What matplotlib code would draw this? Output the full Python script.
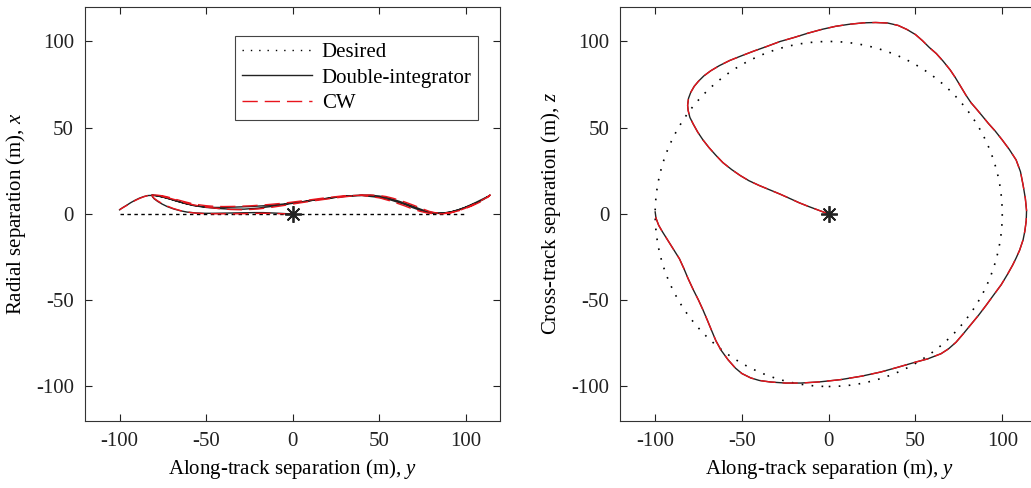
import matplotlib
matplotlib.use('Agg')
import matplotlib.pyplot as plt
from matplotlib.patches import Circle
import numpy as np

plt.rcParams['font.family'] = ['Liberation Serif', 'DejaVu Serif']
plt.rcParams['mathtext.fontset'] = 'custom'
plt.rcParams['mathtext.it'] = 'Liberation Serif:italic'
plt.rcParams['mathtext.rm'] = 'Liberation Serif'
plt.rcParams['axes.unicode_minus'] = False

# desired formation: circle of radius 100 m in the along/cross-track plane
desired_radius = 100

# trajectory: along-track y, cross-track z, radial x
# segment A: origin -> turn at upper left
yA = [0, -4, -8, -12, -17, -22, -28, -34, -40, -46,
      -51, -56, -61, -65, -69, -72.5, -75.5, -78, -80, -81, -81.3]
zA = [0, 1.5, 3, 4.5, 6.5, 8.8, 11.5, 14, 16.5, 19.3,
      22.3, 25.8, 29.8, 34, 38.5, 43, 47.5, 52, 56, 60, 63]
xA = [0, 0.2, 0.4, 0.6, 0.8, 0.8, 0.7, 0.6, 0.5, 0.4,
      0.4, 0.6, 1.1, 1.9, 3.0, 4.3, 5.8, 7.3, 8.8, 10, 11]
xA_cw = [0, 0.1, 0.2, 0.3, 0.4, 0.3, 0.2, 0.1, 0.1, 0.1,
         0.2, 0.5, 1.1, 2.0, 3.2, 4.6, 6.1, 7.6, 9.0, 10.2, 11]

# segment B: turn -> top arc -> right bulge
yB = [-81.3, -80.8, -79.5, -77.5, -75, -72, -68, -63, -57, -50,
      -43, -36, -28, -20, -12, -4, 4, 12, 20, 27,
      34, 40, 45, 50, 54, 58, 62, 66, 70, 73,
      76, 79, 82, 85, 88, 92, 96, 100, 104, 108,
      110.5, 112, 113.3, 114]
zB = [63, 67, 70.5, 74, 77, 80, 83, 86, 89, 91.8,
      94.5, 97, 100, 102.3, 104.8, 107, 108.8, 110, 110.8, 111,
      110.7, 109.3, 107, 104, 100.5, 96.5, 93, 88.5, 83.5, 79,
      74, 69, 64.5, 61, 57.4, 52.5, 48, 42.9, 37.5, 31.3,
      24.5, 16.8, 9, 2]
xB = [11, 11, 10.8, 10.4, 9.8, 9, 7.8, 6.3, 4.8, 3.8,
      3.2, 2.8, 2.8, 3.4, 4.4, 5.6, 6.8, 8, 9, 9.9,
      10.6, 11, 10.9, 10.4, 9.6, 8.5, 7.2, 5.8, 4.3, 3.1,
      2.0, 1.1, 0.6, 0.5, 0.7, 1.4, 2.5, 3.9, 5.5, 7.3,
      8.6, 9.6, 10.4, 11]
xB_cw = [11, 11, 10.9, 10.6, 10.1, 9.4, 8.3, 6.8, 5.2, 4.0,
         3.2, 2.6, 2.4, 2.9, 3.9, 5.1, 6.4, 7.6, 8.7, 9.6,
         10.4, 10.9, 11.0, 10.7, 10.1, 9.1, 7.9, 6.5, 5.0, 3.8,
         2.6, 1.5, 0.8, 0.4, 0.4, 0.9, 1.9, 3.3, 4.9, 6.8,
         8.2, 9.3, 10.2, 11]

# segment C: right bulge -> bottom arc -> end near (-100, 0)
yC = [114, 113.8, 113, 112, 110, 108, 106, 103, 99.4, 95,
      90.8, 86.5, 82, 77.5, 73.4, 69, 64.7, 57, 50.3, 40,
      30, 19, 7, -5, -16, -25, -33.5, -40, -45, -50,
      -53.8, -58, -62, -65, -67.5, -70, -72.5, -75, -78, -81,
      -83.5, -86, -88.5, -91, -93.5, -96, -98, -99.5, -100]
zC = [2, -4, -10, -15, -21, -25.5, -29.6, -35, -41, -47,
      -52.8, -58.5, -64, -69.5, -74.3, -78.2, -81, -84, -85.8, -88.8,
      -91.6, -94, -96, -97.3, -98, -98, -97.4, -96.5, -95, -92.5,
      -89.3, -84.5, -79, -73.5, -67.5, -61.4, -55.5, -50, -44, -37.5,
      -31.5, -26, -22, -18, -14, -10, -6.5, -2.5, 1.2]
xC = [11, 10.8, 10.3, 9.8, 8.8, 7.8, 6.8, 5.4, 3.8, 2.2,
      1.0, 0.4, 0.3, 1.0, 2.2, 3.8, 5.5, 8.0, 9.6, 10.7,
      10.3, 9.0, 7.3, 5.8, 4.8, 4.3, 4.0, 3.8, 3.8, 4.1,
      4.5, 5.2, 6.1, 6.9, 7.6, 8.4, 9.1, 9.8, 10.4, 10.8,
      10.7, 10.1, 9.2, 8.0, 6.6, 5.0, 3.8, 2.8, 2.4]
xC_cw = [11, 10.7, 10.1, 9.5, 8.4, 7.3, 6.3, 4.8, 3.2, 1.6,
         0.6, 0.1, 0.1, 0.6, 1.6, 3.0, 4.7, 7.4, 9.3, 10.8,
         10.6, 9.4, 7.8, 6.3, 5.3, 4.7, 4.4, 4.3, 4.4, 4.8,
         5.3, 6.0, 7.0, 7.8, 8.5, 9.3, 9.9, 10.5, 10.9, 11.1,
         10.8, 10.0, 9.0, 7.8, 6.4, 4.9, 3.7, 2.8, 2.4]

y_traj = np.array(yA + yB[1:] + yC[1:])
z_traj = np.array(zA + zB[1:] + zC[1:])
x_di = np.array(xA + xB[1:] + xC[1:])
x_cw = np.array(xA_cw + xB_cw[1:] + xC_cw[1:])

ticks = [-100, -50, 0, 50, 100]
lim = (-120, 120)

fig = plt.figure(figsize=(10.31, 4.88), dpi=100)
ax1 = fig.add_axes([0.0824, 0.1373, 0.403, 0.8484])
ax2 = fig.add_axes([0.6018, 0.1373, 0.405, 0.8484])
ax2.set_xlim(-120, 120.6)

dash_cw = (0, (11, 5))
asterisk = (8, 2, 0)

# left: radial vs along-track
ax1.plot([-desired_radius, desired_radius], [0, 0], color='black', lw=1.0,
         ls=(0, (2.5, 2.5)), label='Desired')
ax1.plot(y_traj, x_di, color='#222222', lw=1.0, label='Double-integrator')
ax1.plot(y_traj, x_cw, color='#e8141c', lw=1.0, ls=dash_cw, label='CW')
ax1.plot(0, 0, marker=asterisk, color='#222222', ms=12, mew=1.3, ls='none')

# right: cross-track vs along-track
ax2.add_patch(Circle((0, 0), desired_radius, fill=False, color='black', lw=1.2,
                     ls=(0, (1, 5))))
ax2.plot(y_traj, z_traj, color='#222222', lw=1.0)
ax2.plot(y_traj, z_traj, color='#e8141c', lw=1.0, ls=dash_cw)
ax2.plot(0, 0, marker=asterisk, color='#222222', ms=12, mew=1.3, ls='none')

for ax in (ax1, ax2):
    if ax is ax1:
        ax.set_xlim(lim)
    ax.set_ylim(lim)
    ax.set_xticks(ticks)
    ax.set_yticks(ticks)
    ax.tick_params(direction='in', top=True, right=True, labelsize=15,
                   length=5, width=0.8, pad=8, colors='#222222')
    for s in ax.spines.values():
        s.set_linewidth(0.8)
        s.set_color('#333333')
    ax.set_xlabel('Along-track separation (m), $y$', fontsize=15, labelpad=4)

ax1.set_ylabel('Radial separation (m), $x$', fontsize=15, labelpad=6)
ax2.set_ylabel('Cross-track separation (m), $z$', fontsize=15, labelpad=6)

# legend shows the desired sample dotted, as in the reference
h = ax1.get_legend_handles_labels()[0]
h[0].set_linestyle((0, (1, 5)))
leg = ax1.legend(loc='upper right', fontsize=15, handlelength=3.4,
                 fancybox=False, framealpha=1, edgecolor='#444444',
                 borderpad=0.3, labelspacing=0.3, handletextpad=0.45,
                 borderaxespad=0, bbox_to_anchor=(0.9456, 0.93))
leg.get_frame().set_linewidth(0.8)
h[0].set_linestyle((0, (2.5, 2.5)))

fig.savefig('out.png', dpi=100)
